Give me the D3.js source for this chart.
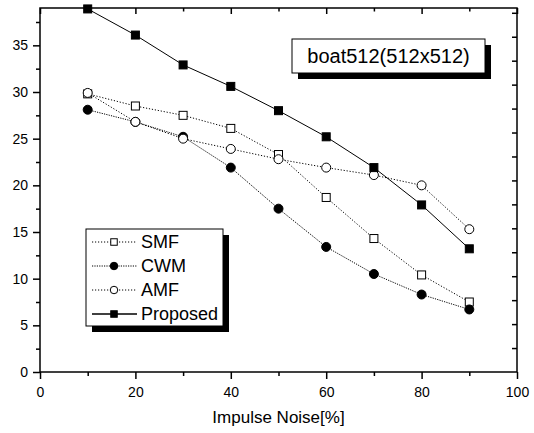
<!DOCTYPE html>
<html>
<head>
<meta charset="utf-8">
<script src="https://cdn.jsdelivr.net/npm/d3@7"></script>
<style>
  body { margin: 0; background: #fff; }
  svg { display: block; font-family: Arial, "Liberation Sans", sans-serif; }
</style>
</head>
<body>
<svg id="chart" width="534" height="433"></svg>
<script>
// impulse noise levels (%)
const noise = [10, 20, 30, 40, 50, 60, 70, 80, 90];

// PSNR values
const smf      = [29.8, 28.5, 27.5, 26.1, 23.3, 18.7, 14.3, 10.4, 7.5];
const cwm      = [28.1, 26.8, 25.2, 21.9, 17.5, 13.4, 10.5, 8.3, 6.7];
const amf      = [29.9, 26.8, 25.0, 23.9, 22.8, 21.9, 21.1, 20.0, 15.3];
const proposed = [38.9, 36.1, 32.9, 30.6, 28.0, 25.2, 21.9, 17.9, 13.2];

const seriesNames = ['SMF', 'CWM', 'AMF', 'Proposed'];
const xTicks = [0, 20, 40, 60, 80, 100];
const yTicks = [0, 5, 10, 15, 20, 25, 30, 35];
const titleText = 'boat512(512x512)';
const xLabel = 'Impulse Noise[%]';

const svg = d3.select('#chart');
const margin = { top: 8, right: 17, bottom: 61, left: 40 };
const W = 534 - margin.left - margin.right;
const H = 433 - margin.top - margin.bottom;

const g = svg.append('g').attr('transform', `translate(${margin.left},${margin.top})`);

const x = d3.scaleLinear().domain([0, 100]).range([0, W]);
const y = d3.scaleLinear().domain([0, 39]).range([H, 0]);
// right mirror axis in the original has its own slightly different scale
const yR = d3.scaleLinear().domain([0, 38]).range([H, 0]);

function styleAxis(sel) {
  sel.select('.domain').remove();
  sel.selectAll('line').attr('stroke', '#000').attr('stroke-width', 1.5);
  sel.selectAll('text').attr('fill', '#000').attr('font-size', 14);
}

// bottom axis
g.append('g').attr('transform', `translate(0,${H})`)
  .call(d3.axisBottom(x).tickValues(xTicks).tickSize(7).tickPadding(8).tickFormat(d3.format('d')))
  .call(styleAxis);
g.append('g').attr('transform', `translate(0,${H})`)
  .call(d3.axisBottom(x).tickValues(d3.range(10, 100, 20)).tickSize(4).tickFormat(''))
  .call(styleAxis);

// left axis
g.append('g')
  .call(d3.axisLeft(y).tickValues(yTicks).tickSize(7).tickPadding(5).tickFormat(d3.format('d')))
  .call(styleAxis);
g.append('g')
  .call(d3.axisLeft(y).tickValues(d3.range(2.5, 39, 5)).tickSize(4).tickFormat(''))
  .call(styleAxis);

// top axis (ticks inward)
g.append('g')
  .call(d3.axisBottom(x).tickValues(xTicks).tickSize(6).tickFormat(''))
  .call(styleAxis);
g.append('g')
  .call(d3.axisBottom(x).tickValues(d3.range(10, 100, 20)).tickSize(3.5).tickFormat(''))
  .call(styleAxis);

// right axis (ticks inward)
g.append('g').attr('transform', `translate(${W},0)`)
  .call(d3.axisLeft(yR).tickValues(d3.range(2.5, 38, 2.5)).tickSize(5).tickFormat(''))
  .call(styleAxis);

// frame
g.append('rect').attr('width', W).attr('height', H)
  .attr('fill', 'none').attr('stroke', '#000').attr('stroke-width', 1.5);

// x label
svg.append('text')
  .attr('x', margin.left + x(50)).attr('y', 423)
  .attr('text-anchor', 'middle').attr('font-size', 17)
  .text(xLabel);

const series = [
  { name: seriesNames[0], values: smf, dash: '1.2,1.8', marker: 'square', fill: '#fff' },
  { name: seriesNames[1], values: cwm, dash: '1.2,1.2', marker: 'circle', fill: '#000' },
  { name: seriesNames[2], values: amf, dash: '1.2,1.8', marker: 'circle', fill: '#fff' },
  { name: seriesNames[3], values: proposed, dash: null, marker: 'square', fill: '#000' }
];

const line = d3.line().x((d, i) => x(noise[i])).y(d => y(d));

function drawMarker(sel, s, cx, cy, size) {
  if (s.marker === 'square') {
    sel.append('rect')
      .attr('x', cx - size / 2).attr('y', cy - size / 2)
      .attr('width', size).attr('height', size)
      .attr('fill', s.fill).attr('stroke', '#000').attr('stroke-width', 1);
  } else {
    sel.append('circle')
      .attr('cx', cx).attr('cy', cy).attr('r', size / 2 + 0.5)
      .attr('fill', s.fill).attr('stroke', '#000').attr('stroke-width', 1);
  }
}

series.forEach(s => {
  const sg = g.append('g');
  sg.append('path')
    .datum(s.values)
    .attr('d', line)
    .attr('fill', 'none')
    .attr('stroke', '#000')
    .attr('stroke-width', 1)
    .attr('stroke-dasharray', s.dash);
  s.values.forEach((v, i) => drawMarker(sg, s, x(noise[i]), y(v), 8));
});

// title box with shadow
const tb = { x: 292, y: 39, w: 193, h: 34 };
svg.append('rect').attr('x', tb.x + 6).attr('y', tb.y + 6).attr('width', tb.w).attr('height', tb.h).attr('fill', '#000');
svg.append('rect').attr('x', tb.x).attr('y', tb.y).attr('width', tb.w).attr('height', tb.h)
  .attr('fill', '#fff').attr('stroke', '#000').attr('stroke-width', 1);
svg.append('text')
  .attr('x', tb.x + tb.w / 2).attr('y', tb.y + 24)
  .attr('text-anchor', 'middle').attr('font-size', 20)
  .text(titleText);

// legend with shadow
const lb = { x: 86, y: 229, w: 137, h: 97 };
svg.append('rect').attr('x', lb.x + 6).attr('y', lb.y + 6).attr('width', lb.w).attr('height', lb.h).attr('fill', '#000');
svg.append('rect').attr('x', lb.x).attr('y', lb.y).attr('width', lb.w).attr('height', lb.h)
  .attr('fill', '#fff').attr('stroke', '#000').attr('stroke-width', 1);

series.forEach((s, i) => {
  const cy = 242 + i * 24;
  const lg = svg.append('g');
  lg.append('line')
    .attr('x1', 92).attr('x2', 137).attr('y1', cy).attr('y2', cy)
    .attr('stroke', '#000').attr('stroke-width', s.dash ? 1 : 1.5)
    .attr('stroke-dasharray', s.dash);
  drawMarker(lg, s, 114, cy, 6.5);
  lg.append('text')
    .attr('x', 141).attr('y', cy).attr('dy', '0.36em')
    .attr('font-size', 18)
    .text(s.name);
});
</script>
</body>
</html>
